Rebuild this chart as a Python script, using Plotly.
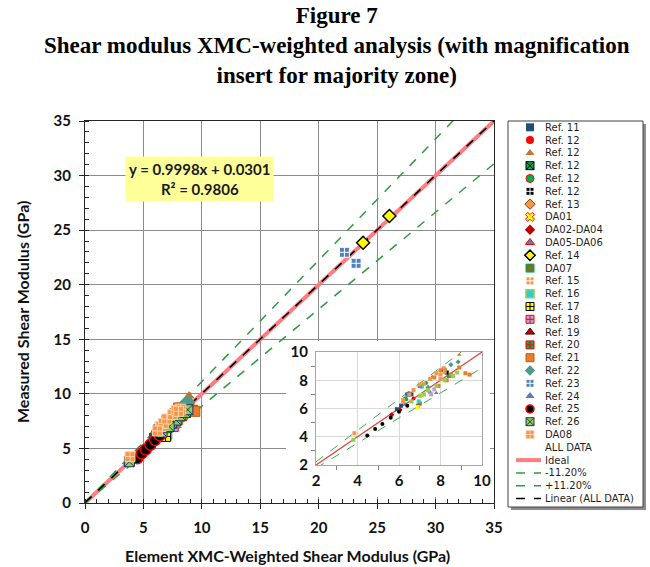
import plotly.graph_objects as go

# ---------------- data ----------------
NAMES = ["Ref. 11", "Ref. 12", "Ref. 12", "Ref. 12", "Ref. 12", "Ref. 12", "Ref. 13",
         "DA01", "DA02-DA04", "DA05-DA06", "Ref. 14", "DA07", "Ref. 15", "Ref. 16",
         "Ref. 17", "Ref. 18", "Ref. 19", "Ref. 20", "Ref. 21", "Ref. 22", "Ref. 23",
         "Ref. 24", "Ref. 25", "Ref. 26", "DA08"]

X_REF11 = [5.9, 6.1, 6.4, 6.5, 6.6]
Y_REF11 = [5.95, 6.2, 7.0, 7.05, 7.0]
X_REF12A = [6.7, 7.1]
Y_REF12A = [6.7, 6.95]
X_REF12B = [7.6, 8.9]
Y_REF12B = [8.25, 9.8]
X_REF12C = [8.2, 8.4]
Y_REF12C = [8.75, 8.3]
X_REF12D = [6.35, 7.3]
Y_REF12D = [6.65, 7.8]
X_REF12E = [8.3]
Y_REF12E = [8.55]
X_REF13 = [6.2, 7.45]
Y_REF13 = [6.45, 7.2]
X_DA01 = [7.05]
Y_DA01 = [6.95]
X_DA02 = [5.65, 6.05]
Y_DA02 = [5.55, 5.9]
X_DA05 = [6.3, 7.5]
Y_DA05 = [6.3, 7.15]
X_REF14 = [23.8, 26.05]
Y_REF14 = [23.85, 26.3]
X_DA07 = [6.92, 7.0]
Y_DA07 = [6.2, 6.35]
X_REF15 = [7.2, 8.0, 8.15]
Y_REF15 = [7.75, 8.1, 8.85]
X_REF16 = [6.95, 7.1]
Y_REF16 = [6.5, 7.55]
X_REF17 = [6.9]
Y_REF17 = [6.1]
X_REF18 = [7.55, 7.7]
Y_REF18 = [7.0, 7.35]
X_REF19 = [8.1]
Y_REF19 = [8.65]
X_REF20 = [6.3, 7.0]
Y_REF20 = [6.7, 7.6]
X_REF21 = [7.9, 8.5, 8.9, 9.2, 8.0, 7.7, 8.3, 9.4]
Y_REF21 = [7.6, 8.4, 8.9, 8.5, 8.7, 8.2, 8.0, 8.4]
X_REF22 = [7.4, 8.85, 8.5]
Y_REF22 = [7.5, 9.3, 9.1]
X_REF23 = [22.2, 23.2, 6.45]
Y_REF23 = [22.97, 21.96, 6.95]
X_REF24 = [7.8]
Y_REF24 = [7.1]
X_REF25 = [4.47, 4.85, 5.2, 5.6, 6.0, 6.4]
Y_REF25 = [4.09, 4.55, 4.9, 5.34, 5.77, 6.2]
X_REF26 = [3.8, 6.6, 7.0, 7.4, 7.8, 8.2, 8.6, 8.8, 7.2]
Y_REF26 = [3.78, 6.5, 6.9, 7.3, 7.6, 8.0, 8.3, 8.55, 7.0]
X_DA08 = [3.85, 6.5, 6.7, 7.0, 7.5, 7.8, 8.2, 8.0, 6.2]
Y_DA08 = [4.25, 7.0, 7.3, 7.7, 8.1, 8.5, 8.6, 8.4, 6.6]

LINE_NAMES = ["ALL DATA", "Ideal", "-11.20%", "+11.20%", "Linear (ALL DATA)"]
FIT_SLOPE = 0.9998
FIT_INTERCEPT = 0.0301
FIT_R2 = 0.9806
BAND = 0.112
MAIN_RANGE = [0, 35]
INSET_RANGE = [2, 10]

# ---------------- styles ----------------
XS = [X_REF11, X_REF12A, X_REF12B, X_REF12C, X_REF12D, X_REF12E, X_REF13, X_DA01, X_DA02,
      X_DA05, X_REF14, X_DA07, X_REF15, X_REF16, X_REF17, X_REF18, X_REF19, X_REF20,
      X_REF21, X_REF22, X_REF23, X_REF24, X_REF25, X_REF26, X_DA08]
YS = [Y_REF11, Y_REF12A, Y_REF12B, Y_REF12C, Y_REF12D, Y_REF12E, Y_REF13, Y_DA01, Y_DA02,
      Y_DA05, Y_REF14, Y_DA07, Y_REF15, Y_REF16, Y_REF17, Y_REF18, Y_REF19, Y_REF20,
      Y_REF21, Y_REF22, Y_REF23, Y_REF24, Y_REF25, Y_REF26, Y_DA08]
# (symbol, fill, line colour, line width, main size)
STYLES = [
    ("square", "#1F4E79", "#1F4E79", 0, 10),
    ("circle", "#FF0000", "#FF0000", 0, 10),
    ("triangle-up", "#C0772F", "#C0772F", 0, 10),
    ("square-x", "#00B050", "#000000", 1, 10),
    ("circle", "#00B050", "#FF0000", 1, 10),
    ("square-cross", "#000000", "#FFFFFF", 1, 10),
    ("diamond", "#F79646", "#7F3F00", 1, 10),
    ("x", "#FFFF00", "#FF0000", 1, 10),
    ("diamond", "#C00000", "#C00000", 0, 10),
    ("triangle-up", "#4F81BD", "#FF0000", 1, 10),
    ("diamond", "#FFFF00", "#000000", 1.5, 10),
    ("square-x", "#9C5B1F", "#00B050", 1, 10),
    ("square-cross", "#F79646", "#FFFFFF", 1, 10),
    ("square", "#33CCCC", "#92D050", 1.5, 10),
    ("square-cross", "#FFFF00", "#000000", 1, 10),
    ("square-cross", "#B4A7D6", "#FF0000", 1, 10),
    ("triangle-up", "#C00000", "#400000", 1, 10),
    ("square-cross", "#00B050", "#FF0000", 1, 10),
    ("square", "#E97B2F", "#C55A11", 1, 10),
    ("diamond", "#4E9A8A", "#4E9A8A", 0, 10),
    ("square-cross", "#4F81BD", "#FFFFFF", 1, 10),
    ("triangle-up", "#5B7DB1", "#5B7DB1", 0, 10),
    ("circle", "#000000", "#FF0000", 1.5, 11),
    ("square-x", "#92D050", "#1F3864", 1, 10),
    ("square-cross", "#F79646", "#FBD4B4", 1, 10),
]

W, H = 650, 567
def pxx(p):
    return p / W
def pxy(p):
    return 1 - p / H

LABEL_FONT = dict(family="Lato", size=15, color="#111111", weight="bold")
IDEAL_COLOR = "#FF7C80"
BAND_COLOR = "#2E9B3E"

fig = go.Figure()

# ---- main lines (drawn first, markers on top) ----
mx = MAIN_RANGE
fig.add_trace(go.Scatter(x=mx, y=[v for v in mx], mode="lines", showlegend=False,
                         line=dict(color=IDEAL_COLOR, width=4), xaxis="x", yaxis="y"))
fig.add_trace(go.Scatter(x=mx, y=[v * (1 - BAND) for v in mx], mode="lines", showlegend=False,
                         line=dict(color=BAND_COLOR, width=1.5, dash="dash"), xaxis="x", yaxis="y"))
fig.add_trace(go.Scatter(x=mx, y=[v * (1 + BAND) for v in mx], mode="lines", showlegend=False,
                         line=dict(color=BAND_COLOR, width=1.5, dash="dash"), xaxis="x", yaxis="y"))
fig.add_trace(go.Scatter(x=mx, y=[FIT_SLOPE * v + FIT_INTERCEPT for v in mx], mode="lines",
                         showlegend=False, line=dict(color="#000000", width=1.6, dash="dash"),
                         xaxis="x", yaxis="y"))

# ---- main plot markers ----
for name, xs, ys, (sym, fill, lc, lw, sz) in zip(NAMES, XS, YS, STYLES):
    fig.add_trace(go.Scatter(
        x=xs, y=ys, mode="markers", name=name, showlegend=False,
        marker=dict(symbol=sym, size=sz, color=fill, line=dict(color=lc, width=lw)),
        xaxis="x", yaxis="y"))

# ---- white box behind inset (own subplot so its background covers main grid) ----
fig.add_trace(go.Scatter(x=[], y=[], xaxis="x2", yaxis="y2", showlegend=False))

# ---- inset ----
ix = INSET_RANGE
fig.add_trace(go.Scatter(x=ix, y=[v * (1 - BAND) for v in ix], mode="lines", showlegend=False,
                         line=dict(color="#3BAA4A", width=1, dash="dash"), xaxis="x3", yaxis="y3"))
fig.add_trace(go.Scatter(x=ix, y=[v * (1 + BAND) for v in ix], mode="lines", showlegend=False,
                         line=dict(color="#3BAA4A", width=1, dash="dash"), xaxis="x3", yaxis="y3"))
fig.add_trace(go.Scatter(x=ix, y=[v for v in ix], mode="lines", showlegend=False,
                         line=dict(color="#E0403A", width=1.3), xaxis="x3", yaxis="y3"))
for name, xs, ys, (sym, fill, lc, lw, sz) in zip(NAMES, XS, YS, STYLES):
    small_sym = "square" if sym == "x" else sym.replace("-x", "").replace("-cross", "")
    fig.add_trace(go.Scatter(
        x=xs, y=ys, mode="markers", showlegend=False,
        marker=dict(symbol=small_sym, size=4, color=fill, line=dict(width=0)),
        xaxis="x3", yaxis="y3"))

# ---- custom legend (subplot x4/y4, coordinates in pixels) ----
ROW0, ROWH = 127.3, 12.8
MARK_X, TEXT_X, LINE_X0, LINE_X1 = 530, 543, 516, 541
LEG_FONT = dict(family="DejaVu Sans", size=10, color="#1f1f1f")
annotations = []
for i, (name, (sym, fill, lc, lw, sz)) in enumerate(zip(NAMES, STYLES)):
    ry = ROW0 + ROWH * i
    fig.add_trace(go.Scatter(x=[MARK_X], y=[ry], mode="markers", showlegend=False,
                             marker=dict(symbol=sym, size=8, color=fill, line=dict(color=lc, width=lw)),
                             xaxis="x4", yaxis="y4", cliponaxis=False))
    annotations.append(dict(x=TEXT_X, y=ry, xref="x4", yref="y4", text=name, showarrow=False,
                            xanchor="left", yanchor="middle", font=LEG_FONT))
line_styles = [None,
               dict(color=IDEAL_COLOR, width=4),
               dict(color=BAND_COLOR, width=1.5, dash="dash"),
               dict(color=BAND_COLOR, width=1.5, dash="dash"),
               dict(color="#000000", width=1.6, dash="dash")]
for j, (name, ls) in enumerate(zip(LINE_NAMES, line_styles)):
    ry = ROW0 + ROWH * (len(NAMES) + j)
    if ls is not None:
        fig.add_trace(go.Scatter(x=[LINE_X0, LINE_X1], y=[ry, ry], mode="lines", showlegend=False,
                                 line=ls, xaxis="x4", yaxis="y4", cliponaxis=False))
    annotations.append(dict(x=TEXT_X, y=ry, xref="x4", yref="y4", text=name, showarrow=False,
                            xanchor="left", yanchor="middle", font=LEG_FONT))

# ---- title, axis titles, equation ----
annotations.append(dict(
    x=pxx(337), y=pxy(1), xref="paper", yref="paper", xanchor="center", yanchor="top",
    text="Figure 7<br>Shear modulus XMC-weighted analysis (with magnification<br>insert for majority zone)",
    showarrow=False, font=dict(family="Liberation Serif", size=23, color="#000000", weight="bold")))
annotations.append(dict(
    x=pxx(287), y=pxy(555), xref="paper", yref="paper", xanchor="center", yanchor="middle",
    text="Element XMC-Weighted Shear Modulus (GPa)", showarrow=False,
    font=dict(family="Lato", size=16, color="#111111", weight="bold")))
annotations.append(dict(
    x=pxx(22), y=pxy(312), xref="paper", yref="paper", xanchor="center", yanchor="middle",
    text="Measured Shear Modulus (GPa)", showarrow=False, textangle=-90,
    font=dict(family="Lato", size=16, color="#111111", weight="bold")))
annotations.append(dict(
    x=pxx(199.5), y=pxy(178.5), xref="paper", yref="paper", xanchor="center", yanchor="middle",
    text=f"y = {FIT_SLOPE:.4f}x + {FIT_INTERCEPT:.4f}<br>R² = {FIT_R2:.4f}", showarrow=False,
    bgcolor="#FFFF99", borderpad=3,
    font=dict(family="Lato", size=15, color="#1a1a1a", weight="bold")))

shapes = [
    dict(type="rect", xref="paper", yref="paper", x0=pxx(511), x1=pxx(646), y0=pxy(510), y1=pxy(124),
         fillcolor="#8C8C8C", line=dict(width=0), layer="below"),
    dict(type="rect", xref="paper", yref="paper", x0=pxx(508), x1=pxx(643), y0=pxy(507), y1=pxy(121),
         fillcolor="#FFFFFF", line=dict(color="#404040", width=1), layer="below"),
]

main_axis = dict(range=MAIN_RANGE, dtick=5, tick0=0, showgrid=True, gridcolor="#8C8C8C", gridwidth=1,
                 showline=True, linecolor="#262626", linewidth=1.3, mirror=True, zeroline=False,
                 ticks="outside", ticklen=5, tickcolor="#262626", tickwidth=1.3,
                 minor=dict(ticks="inside", dtick=1, ticklen=4, tickcolor="#262626", showgrid=False),
                 tickfont=LABEL_FONT)
inset_axis = dict(range=INSET_RANGE, dtick=2, tick0=0, showgrid=True, gridcolor="#D9D9D9", gridwidth=1,
                  showline=True, linecolor="#A6A6A6", linewidth=1, mirror=True, zeroline=False,
                  ticks="", minor=dict(ticks="outside", dtick=1, ticklen=4, tickcolor="#7F7F7F", showgrid=False),
                  tickfont=dict(family="Lato", size=15, color="#111111", weight="bold"))

fig.update_layout(
    width=W, height=H, template="none",
    paper_bgcolor="white", plot_bgcolor="white",
    margin=dict(l=0, r=0, t=0, b=0),
    showlegend=False,
    xaxis=dict(main_axis, domain=[pxx(85), pxx(494)], anchor="y", ticklabelstandoff=6),
    yaxis=dict(main_axis, domain=[pxy(503), pxy(121)], anchor="x", ticklabelstandoff=5),
    xaxis2=dict(domain=[pxx(286), pxx(490)], anchor="y2", visible=False, range=[0, 1]),
    yaxis2=dict(domain=[pxy(497), pxy(341)], anchor="x2", visible=False, range=[0, 1]),
    xaxis3=dict(inset_axis, domain=[pxx(316), pxx(482)], anchor="y3", ticklabelstandoff=2),
    yaxis3=dict(inset_axis, domain=[pxy(465), pxy(352)], anchor="x3", ticklabelstandoff=4),
    xaxis4=dict(domain=[pxx(508), pxx(643)], anchor="y4", visible=False, range=[508, 643]),
    yaxis4=dict(domain=[pxy(507), pxy(121)], anchor="x4", visible=False, range=[507, 121]),
    annotations=annotations,
    shapes=shapes,
)

fig.write_html("out.html")
